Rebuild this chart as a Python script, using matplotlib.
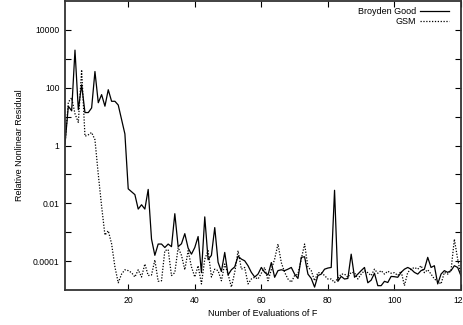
import matplotlib
matplotlib.use("Agg")
import matplotlib.pyplot as plt
import numpy as np

plt.rcParams['font.family'] = ['Liberation Sans', 'DejaVu Sans']

# number of evaluations of F
evals = list(range(1, 121))

# log10 of the relative nonlinear residual
broyden_log10 = [
    0.05, 1.36, 1.2, 3.3, 1.24, 2.1, 1.14, 1.14, 1.3, 2.56,
    1.48, 1.76, 1.36, 1.93, 1.53, 1.53, 1.4, 0.9, 0.4, -1.5,
    -1.6, -1.7, -2.2, -2.05, -2.2, -1.52, -3.24, -3.8, -3.41, -3.41,
    -3.53, -3.41, -3.5, -2.36, -3.5, -3.4, -3.05, -3.55, -3.76, -3.53,
    -3.15, -4.4, -2.47, -3.95, -3.8, -2.84, -4.04, -4.36, -3.7, -4.48,
    -4.3, -4.2, -3.83, -3.93, -3.99, -4.16, -4.39, -4.55, -4.45, -4.22,
    -4.39, -4.48, -4.05, -4.56, -4.33, -4.3, -4.33, -4.28, -4.22, -4.45,
    -4.6, -3.87, -3.85, -4.45, -4.6, -4.9, -4.5, -4.45, -4.28, -4.24,
    -4.22, -1.55, -4.7, -4.53, -4.62, -4.6, -3.76, -4.56, -4.45, -4.33,
    -4.22, -4.75, -4.66, -4.42, -4.85, -4.85, -4.7, -4.74, -4.53, -4.54,
    -4.56, -4.39, -4.28, -4.22, -4.28, -4.39, -4.45, -4.33, -4.28, -3.87,
    -4.22, -4.16, -4.79, -4.45, -4.33, -4.39, -4.33, -4.16, -4.22, -4.51,
]

gsm_log10 = [
    0.05, 1.5, 1.65, 1.1, 0.8, 2.62, 0.32, 0.37, 0.45, 0.2,
    -1.0, -2.1, -3.1, -2.95, -3.4, -4.2, -4.75, -4.45, -4.3, -4.33,
    -4.4, -4.55, -4.3, -4.55, -4.1, -4.5, -4.48, -3.96, -4.7, -4.68,
    -3.64, -3.6, -4.5, -4.4, -3.53, -3.8, -4.3, -3.64, -4.2, -4.55,
    -4.16, -4.79, -3.93, -3.64, -4.55, -4.28, -4.33, -4.68, -4.1, -4.45,
    -4.9, -4.39, -3.64, -4.28, -4.22, -4.79, -4.62, -4.56, -4.62, -4.42,
    -4.22, -4.68, -4.3, -3.93, -3.41, -4.05, -4.39, -4.62, -4.73, -4.5,
    -4.45, -3.93, -3.41, -4.2, -4.33, -4.68, -4.4, -4.4, -4.5, -4.62,
    -4.62, -4.74, -4.6, -4.45, -4.45, -4.56, -4.39, -4.4, -4.62, -4.45,
    -4.33, -4.4, -4.5, -4.28, -4.42, -4.33, -4.45, -4.35, -4.42, -4.4,
    -4.5, -4.35, -4.85, -4.39, -4.28, -4.22, -4.28, -4.16, -4.4, -4.3,
    -4.45, -4.62, -4.7, -4.79, -4.39, -4.45, -4.33, -3.24, -3.93, -4.51,
]

series_labels = ["Broyden Good", "GSM"]
x_ticks = [20, 40, 60, 80, 100, 120]
y_ticks = [1e-4, 1e-3, 1e-2, 1e-1, 1, 10, 100, 1e3, 1e4]
y_tick_labels = ["0.0001", "", "0.01", "", "1", "", "100", "", "10000"]

broyden = 10.0 ** np.array(broyden_log10)
gsm = 10.0 ** np.array(gsm_log10)

fig = plt.figure(figsize=(4.63, 3.25), dpi=100)
ax = fig.add_axes([65 / 463, 1 - 290 / 325, (461 - 65) / 463, (289) / 325])

ax.plot(evals, broyden, color='black', lw=0.9, label=series_labels[0])
ax.plot(evals, gsm, color='black', lw=0.9, linestyle=(0, (1, 1.3)), label=series_labels[1])

ax.set_yscale('log')
ax.set_xlim(1, 120)
ax.set_ylim(1e-5, 1e5)
ax.set_xticks(x_ticks)
ax.set_xticklabels([str(t) for t in x_ticks])
ax.set_yticks(y_ticks)
ax.set_yticklabels(y_tick_labels)
ax.yaxis.set_minor_locator(matplotlib.ticker.NullLocator())
ax.tick_params(direction='in', length=4, width=0.8, labelsize=6.2,
               top=True, right=True, pad=4)

for s in ax.spines.values():
    s.set_linewidth(1.3)
    s.set_color('#333333')

ax.set_xlabel("Number of Evaluations of F", fontsize=6.5, labelpad=3)
ax.set_ylabel("Relative Nonlinear Residual", fontsize=6.5, labelpad=6)

leg = ax.legend(loc='upper right', frameon=False, markerfirst=False, fontsize=6.5,
                handlelength=3.2, handletextpad=0.4, labelspacing=0.05,
                borderaxespad=0.3, bbox_to_anchor=(0.985, 1.0))

fig.savefig("out.png", dpi=100)
